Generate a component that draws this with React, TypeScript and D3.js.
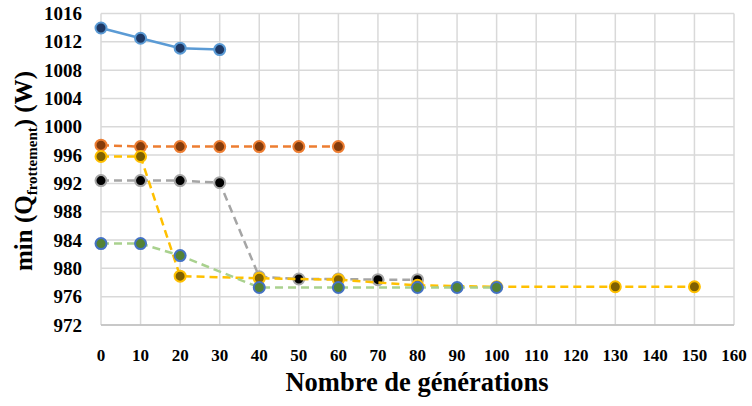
import React from 'react'
import * as d3 from 'd3'

const xTicks = d3.range(0, 161, 10)
const yTicks = d3.range(972, 1017, 4)

const gensA = [0, 10, 20, 30]
const valsA = [1013.95, 1012.5, 1011.1, 1010.9]

const gensB = [0, 10, 20, 30, 40, 50, 60]
const valsB = [997.4, 997.2, 997.2, 997.2, 997.2, 997.2, 997.2]

const gensC = [0, 10, 20, 30, 40, 50, 60, 70, 80]
const valsC = [992.4, 992.4, 992.4, 992.1, 978.8, 978.5, 978.5, 978.4, 978.4]

const gensD = [0, 10, 20, 40, 60, 80, 100, 130, 150]
const valsD = [995.8, 995.8, 978.9, 978.6, 978.4, 977.6, 977.4, 977.4, 977.4]

const gensE = [0, 10, 20, 40, 60, 80, 90, 100]
const valsE = [983.5, 983.5, 981.8, 977.3, 977.3, 977.3, 977.3, 977.3]

type Series = {
  gens: number[]
  vals: number[]
  line: string
  fill: string
  stroke: string
  dash?: string
}

const series: Series[] = [
  { gens: gensA, vals: valsA, line: '#5b9bd5', fill: '#1f3864', stroke: '#5b9bd5' },
  { gens: gensB, vals: valsB, line: '#ed7d31', fill: '#843c0c', stroke: '#ed7d31', dash: '8 5' },
  { gens: gensC, vals: valsC, line: '#a5a5a5', fill: '#000000', stroke: '#a5a5a5', dash: '8 5' },
  { gens: gensD, vals: valsD, line: '#ffc000', fill: '#7f6000', stroke: '#ffc000', dash: '8 5' },
  { gens: gensE, vals: valsE, line: '#a9d18e', fill: '#548235', stroke: '#4472c4', dash: '8 5' },
]

const W = 752
const H = 406
const left = 101
const right = 734
const top = 13.5
const bottom = 325

const serif = { fontFamily: 'Liberation Serif' }

export default function App() {
  const x = d3.scaleLinear().domain([0, 160]).range([left, right])
  const y = d3.scaleLinear().domain([972, 1016]).range([bottom, top])

  return (
    <svg
      width={W}
      height={H}
      style={{ position: 'absolute', left: 0, top: 0, background: '#fff' }}
    >
      {/* grid */}
      {yTicks.map((t) => (
        <line key={'gy' + t} x1={left} x2={right} y1={y(t)} y2={y(t)} stroke="#d9d9d9" strokeWidth={1.5} />
      ))}
      {xTicks.map((t) => (
        <line key={'gx' + t} x1={x(t)} x2={x(t)} y1={top} y2={bottom} stroke="#d9d9d9" strokeWidth={1.5} />
      ))}
      <line x1={left} x2={right} y1={bottom} y2={bottom} stroke="#bfbfbf" strokeWidth={1.5} />

      {/* tick labels */}
      {yTicks.map((t) => (
        <text key={'ty' + t} x={82} y={y(t)} dy="0.35em" textAnchor="end" fontSize={19} fontWeight="bold" style={serif}>
          {t}
        </text>
      ))}
      {xTicks.map((t) => (
        <text key={'tx' + t} x={x(t)} y={361} textAnchor="middle" fontSize={17} fontWeight="bold" style={serif}>
          {t}
        </text>
      ))}

      {/* series */}
      {series.map((s, i) => {
        const pts: [number, number][] = s.gens.map((g, j) => [x(g), y(s.vals[j])])
        const path = d3.line()(pts) || ''
        return (
          <g key={'s' + i}>
            <path d={path} fill="none" stroke={s.line} strokeWidth={2.5} strokeDasharray={s.dash} />
            {pts.map((p, j) => (
              <circle key={j} cx={p[0]} cy={p[1]} r={5.5} fill={s.fill} stroke={s.stroke} strokeWidth={2} />
            ))}
          </g>
        )
      })}

      {/* axis titles */}
      <text x={417} y={391} textAnchor="middle" fontSize={26.5} fontWeight="bold" style={serif}>
        Nombre de générations
      </text>
      <text
        transform="translate(32,171) rotate(-90)"
        textAnchor="middle"
        fontSize={25}
        fontWeight="bold"
        style={serif}
      >
        min (Q<tspan fontSize={15} dy={5}>frottement</tspan>
        <tspan dy={-5}>) (W)</tspan>
      </text>
    </svg>
  )
}
